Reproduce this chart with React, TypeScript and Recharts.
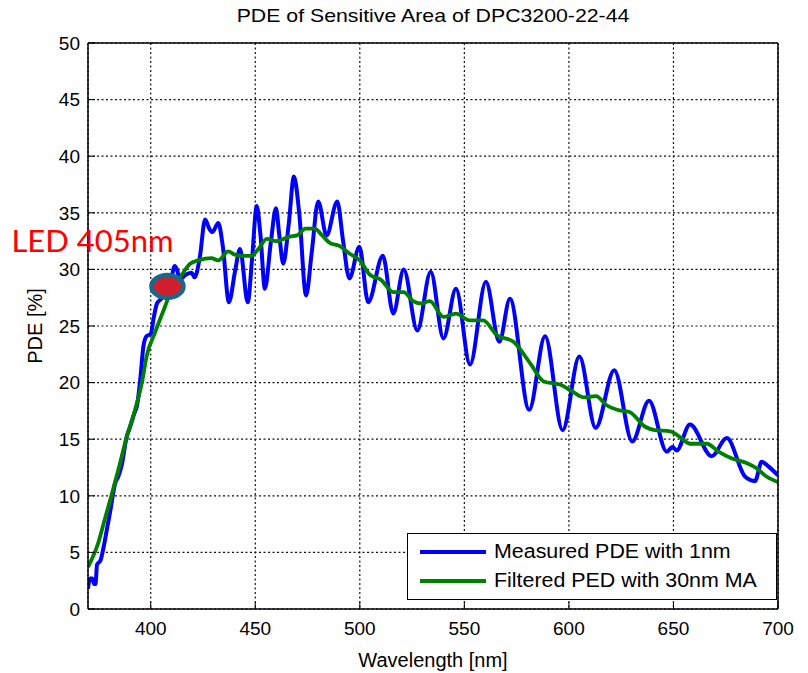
import React from 'react';
import { LineChart, Line, XAxis, YAxis, CartesianGrid, Legend, ReferenceDot } from 'recharts';

const measuredPoints: [number, number][] = [
  [370, 1.8], [371, 2.7], [372, 2.7], [373, 2.2], [373.6, 2.2], [374.3, 3.9], [376, 4.3],
  [377.5, 5.5], [379, 7.0], [380.5, 8.5], [383, 11.1], [384.5, 11.7], [386, 12.6],
  [388.5, 15.2], [390, 16.0], [392, 17.2], [393.5, 18.0], [395, 20.3], [396.5, 23.2],
  [398, 24.1], [400, 24.3], [401.5, 25.8], [403, 27.0], [405, 27.4], [407, 28.0],
  [409.5, 28.9], [411.5, 30.3], [412.5, 30.0], [414, 29.1], [416.5, 29.5], [419.5, 29.7],
  [421, 29.3], [423.5, 31.1], [426, 34.4], [428, 33.6], [429.5, 33.3], [432.3, 34.1],
  [434.5, 32.0], [437.4, 27.1], [440.3, 29.8], [442.7, 31.8], [446.4, 27.1], [448.5, 31.0],
  [450.7, 35.6], [452.5, 33.0], [454.6, 28.3], [457.5, 32.5], [459.9, 35.4], [461.5, 33.0],
  [463.4, 30.5], [466, 34.0], [468.5, 38.2], [471, 35.0], [474.3, 27.7], [477, 31.5],
  [480.1, 36.0], [484.1, 33.0], [489.2, 36.0], [492, 32.5], [495, 29.2], [499.8, 32.0],
  [504, 27.1], [511, 31.2], [516, 26.1], [521, 30.0], [527.5, 24.6], [533.9, 29.8],
  [540, 23.9], [546, 28.3], [552.7, 21.6], [560.3, 28.9], [566.7, 23.6], [571.8, 27.4],
  [581, 17.6], [588.6, 24.1], [597, 15.8], [605, 22.3], [612.8, 16.0], [621.7, 21.1],
  [630.3, 14.8], [638.3, 18.4], [646.8, 13.9], [649.5, 14.3], [651.5, 14.0], [657.9, 16.3],
  [668.3, 13.5], [675.5, 15.1], [684.2, 11.7], [689, 11.3], [692.2, 13.0], [695.4, 12.6],
  [700, 11.8],
];

// 30nm moving average curve
const filteredPoints: [number, number][] = [
  [370, 3.7], [375, 5.9], [378, 7.9], [381.3, 10.1], [384.5, 12.3], [388.5, 15.2],
  [392.5, 17.6], [396, 20.2], [398, 22.3], [402, 24.4], [406.8, 26.7], [410, 28.2],
  [414.8, 29.5], [418.8, 30.5], [422.8, 30.8], [429, 31.0], [432.3, 30.8], [437, 31.6],
  [440.3, 31.3], [444, 31.2], [448, 31.2], [451.5, 31.8], [455.5, 32.7], [460, 32.5],
  [466.5, 32.9], [470, 33.0], [474, 33.6], [478.5, 33.6], [482, 33.0], [486, 32.3],
  [490, 32.1], [495, 31.4], [500, 30.8], [505, 29.5], [510, 29.1], [516, 28.0],
  [521, 28.0], [525.5, 27.2], [529, 27.0], [533.5, 27.2], [540, 25.8], [546, 26.1],
  [552.5, 25.5], [559, 25.5], [565.5, 24.2], [573.5, 23.6], [581.5, 21.7], [588, 20.1],
  [596, 19.8], [601, 19.3], [607, 18.7], [613, 18.8], [618, 18.0], [623, 17.6],
  [629, 17.4], [636.5, 16.1], [641, 15.8], [648.5, 15.7], [653, 15.2], [658, 14.6],
  [666, 14.6], [671.5, 13.9], [678, 13.3], [685, 12.9], [690, 12.4], [694.5, 11.7],
  [700, 11.2],
];

const xTicks = [400, 450, 500, 550, 600, 650, 700];
const yTicks = [0, 5, 10, 15, 20, 25, 30, 35, 40, 45, 50];
const seriesNames = ['Measured PDE with 1nm', 'Filtered PED with 30nm MA'];
const ledPoint: [number, number] = [408, 28.5];
const ledLabel = 'LED 405nm';

const FONT = '"Liberation Sans", Arial, sans-serif';

const measuredData = measuredPoints.map(([nm, pde]) => ({ nm, pde }));
const filteredData = filteredPoints.map(([nm, pde]) => ({ nm, pde }));

const tickStyle = { fill: '#000', fontSize: 19, fontFamily: FONT };
const noTick = () => <g />;

const LedMarker = (props: any) => {
  const { cx, cy } = props;
  return (
    <g>
      <ellipse cx={cx} cy={cy} rx={16} ry={11.5} fill="#d0202e" stroke="#17698c" strokeWidth={4.5} />
      <text x={cx - 156} y={cy - 34} fill="#ff0000" fontSize={31} fontFamily="Lato, 'Open Sans', sans-serif">
        {ledLabel}
      </text>
    </g>
  );
};

const renderLegend = (props: any) => {
  const items = [...(props.payload || [])].sort(
    (a: any, b: any) => seriesNames.indexOf(a.value) - seriesNames.indexOf(b.value)
  );
  return (
    <div
      style={{
        width: 370,
        height: 67,
        boxSizing: 'border-box',
        border: '1.5px solid #000',
        background: '#fff',
        paddingTop: 3,
        fontFamily: FONT,
        fontSize: 20,
        color: '#000',
      }}
    >
      {items.map((it: any) => (
        <div key={it.value} style={{ display: 'flex', alignItems: 'center', height: 29 }}>
          <span style={{ display: 'inline-block', width: 66, height: 4, background: it.color, marginLeft: 12, marginRight: 8 }} />
          <span style={{ display: 'inline-block', transform: 'scaleX(1.07)', transformOrigin: 'left center', whiteSpace: 'nowrap' }}>
            {it.value}
          </span>
        </div>
      ))}
    </div>
  );
};

const YLabel = (props: any) => {
  const { viewBox } = props;
  const x = viewBox.x + 35;
  const y = viewBox.y + viewBox.height / 2;
  return (
    <text x={x} y={y} transform={`rotate(-90 ${x} ${y})`} textAnchor="middle" dominantBaseline="central"
      fontSize={20} fontFamily={FONT} fill="#000">
      PDE [%]
    </text>
  );
};

export default function App() {
  return (
    <div style={{ position: 'absolute', left: 0, top: 0, width: 808, height: 673, background: '#fff' }}>
      <div
        style={{
          position: 'absolute', left: 88, top: 5, width: 690, textAlign: 'center',
          fontFamily: FONT, fontSize: 19, color: '#000', transform: 'scaleX(1.12)',
        }}
      >
        PDE of Sensitive Area of DPC3200-22-44
      </div>
      <LineChart width={808} height={673} margin={{ top: 42, right: 29, bottom: 0, left: 0 }}>
        <CartesianGrid xAxisId="b" yAxisId="l" stroke="#111" strokeDasharray="2 2.5" strokeWidth={1.2} />
        <XAxis
          xAxisId="b" dataKey="nm" type="number" domain={[370, 700]} ticks={xTicks} allowDataOverflow
          height={64} tickSize={-7} tickMargin={20} tick={tickStyle} interval={0}
          axisLine={{ stroke: '#000', strokeWidth: 1.5 }} tickLine={{ stroke: '#000' }}
          label={{ value: 'Wavelength [nm]', position: 'insideBottom', offset: 6, fontSize: 20, fontFamily: FONT, fill: '#000' }}
        />
        <XAxis
          xAxisId="t" orientation="top" type="number" domain={[370, 700]} ticks={xTicks} allowDataOverflow
          height={1} tickSize={-7} tick={noTick} interval={0}
          axisLine={{ stroke: '#000', strokeWidth: 1.5 }} tickLine={{ stroke: '#000' }}
        />
        <YAxis
          yAxisId="l" type="number" domain={[0, 50]} ticks={yTicks} width={88} interval={0}
          tickSize={-7} tickMargin={15} tick={tickStyle}
          axisLine={{ stroke: '#000', strokeWidth: 1.5 }} tickLine={{ stroke: '#000' }}
          label={<YLabel />}
        />
        <YAxis
          yAxisId="r" orientation="right" type="number" domain={[0, 50]} ticks={yTicks} width={1} interval={0}
          tickSize={-7} tick={noTick}
          axisLine={{ stroke: '#000', strokeWidth: 1.5 }} tickLine={{ stroke: '#000' }}
        />
        <Line
          xAxisId="b" yAxisId="l" data={measuredData} dataKey="pde" name={seriesNames[0]} type="monotone"
          stroke="#0000ff" strokeWidth={4} strokeLinejoin="round" dot={false} isAnimationActive={false}
        />
        <Line
          xAxisId="b" yAxisId="l" data={filteredData} dataKey="pde" name={seriesNames[1]} type="monotone"
          stroke="#008000" strokeWidth={3.8} strokeLinejoin="round" dot={false} isAnimationActive={false}
        />
        <ReferenceDot xAxisId="b" yAxisId="l" x={ledPoint[0]} y={ledPoint[1]} r={16} shape={LedMarker} />
        <Legend
          layout="vertical" verticalAlign="middle" align="center" content={renderLegend}
          wrapperStyle={{ position: 'absolute', left: 407, top: 533, width: 370, height: 67 }}
        />
      </LineChart>
    </div>
  );
}
